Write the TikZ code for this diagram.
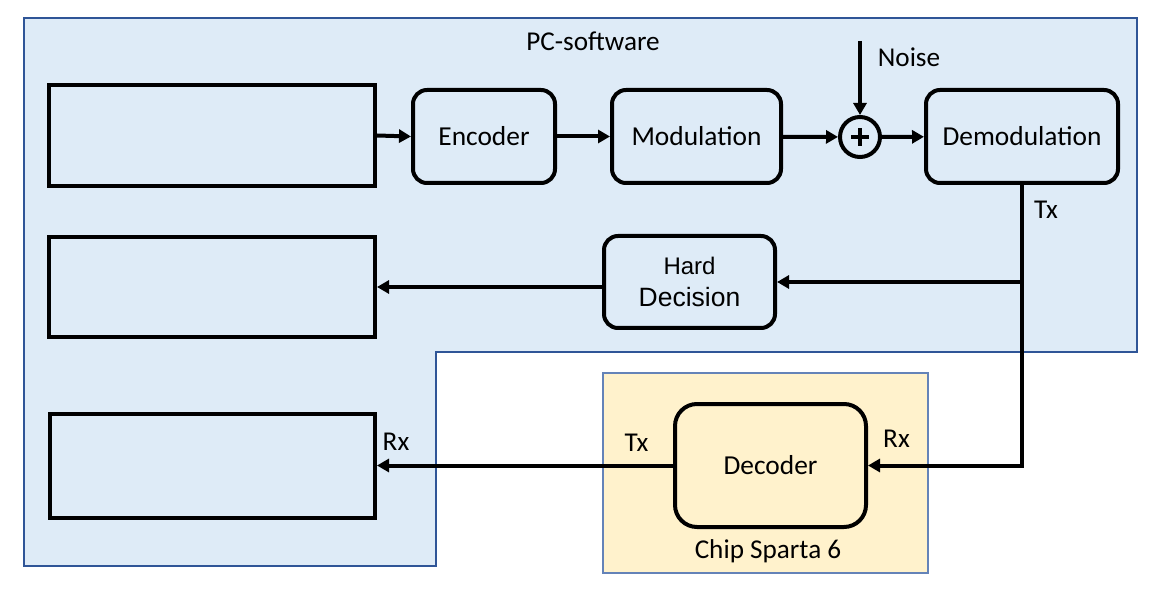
\documentclass[tikz,border=0pt]{standalone}
\usepackage{fontspec}
\setmainfont{Carlito}
\newfontfamily\arialfont{Liberation Sans}
\usetikzlibrary{arrows.meta}
\definecolor{pcfill}{HTML}{DEEBF7}
\definecolor{pcline}{HTML}{2F5597}
\definecolor{chipfill}{HTML}{FFF2CC}
\definecolor{chipline}{HTML}{6483B8}
\begin{document}
\begin{tikzpicture}[x=1pt,y=-1pt,
  lbl/.style={font=\fontsize{27.2}{30}\selectfont, inner sep=0pt},
  blk/.style={draw, line width=4pt, fill=pcfill, inner sep=0pt, font=\fontsize{27.4}{30}\selectfont},
  rblk/.style={blk, rounded corners=14pt},
  conn/.style={line width=4pt, -{Triangle[length=12pt,width=13pt]}},
  region/.style={line width=1.5pt}
]
\useasboundingbox (0,0) rectangle (1161,593);
% regions
\draw[region, draw=pcline, fill=pcfill] (24,18) -- (1137,18) -- (1137,352) -- (436,352) -- (436,566) -- (24,566) -- cycle;
\draw[region, draw=chipline, fill=chipfill] (603,373) rectangle (928,573);
\node[lbl] (pc) at (593,41) {PC-software};
\node[lbl] (chip) at (768,551) {Chip Sparta 6};
% blocks
\node[blk, minimum width=326pt, minimum height=101pt] (in1) at (212,135.5) {};
\node[blk, minimum width=326pt, minimum height=100pt] (in2) at (212,287) {};
\node[blk, minimum width=325pt, minimum height=104pt] (in3) at (212.5,466) {};
\node[rblk, minimum width=142pt, minimum height=93pt] (enc) at (484,136.5) {Encoder};
\node[rblk, minimum width=169pt, minimum height=93pt] (mod) at (696.5,136.5) {Modulation};
\node[rblk, minimum width=192pt, minimum height=93pt] (dem) at (1022,136.5) {Demodulation};
\node[rblk, minimum width=171pt, minimum height=92pt, align=center, font=\arialfont\fontsize{26.5}{32}\selectfont] (hd) at (689.5,282) {{\fontsize{24}{32}\selectfont Hard}\\Decision};
\node[rblk, fill=chipfill, rounded corners=22pt, minimum width=191pt, minimum height=123pt] (dec) at (770.5,465.5) {Decoder};
\node[draw, circle, line width=4pt, minimum size=40pt, inner sep=0pt, fill=pcfill] (sum) at (860,137) {};
\draw[line width=4pt] ([xshift=-9pt]sum.center) -- ([xshift=9pt]sum.center);
\draw[line width=4pt] ([yshift=-9pt]sum.center) -- ([yshift=9pt]sum.center);
\coordinate (noise) at (860,41);
% labels
\node[lbl] (noiselbl) at (909,57) {Noise};
\node[lbl] (tx1) at (1046,210) {Tx};
\node[lbl] (tx2) at (636.5,443) {Tx};
\node[lbl] (rx1) at (396,442) {Rx};
\node[lbl] (rx2) at (896.5,439) {Rx};
% connectors
\draw[conn] (in1.east) -- (enc.west);
\draw[conn] (enc) -- (mod);
\draw[conn] (mod) -- (sum);
\draw[conn] (sum) -- (dem);
\draw[conn] (noise) -- (sum);
\draw[conn] (dem.south) |- (dec.east);
\draw[conn] (dem.south |- hd.east) -- (hd.east);
\draw[conn] (hd.west |- in2.east) -- (in2.east);
\draw[conn] (dec.west) -- (in3.east |- dec.west);
\end{tikzpicture}
\end{document}
